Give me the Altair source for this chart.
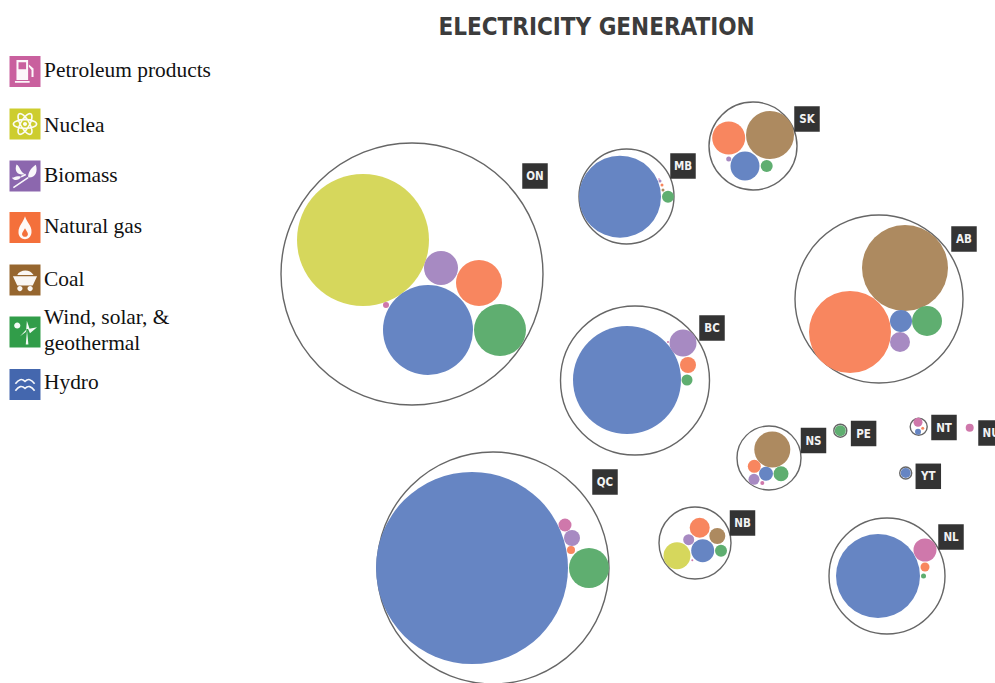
import altair as alt
import pandas as pd

# Canadian electricity generation by province: one packed cluster per province.
SOURCE_COLORS = {
    "Petroleum products": "#cf78ab",
    "Nuclear": "#d6d75c",
    "Biomass": "#a78ac2",
    "Natural gas": "#f8865f",
    "Coal": "#ad8a60",
    "Wind": "#5fae70",
    "Hydro": "#6685c3",
}

PROVINCES = ["ON", "MB", "SK", "AB", "BC", "QC", "NB", "NS", "PE", "NT", "YT", "NL"]
OUTER_X = [412, 626.5, 753, 879, 635, 493, 695, 769, 840.3, 918.7, 905.7, 887]
OUTER_Y = [274, 196.5, 146, 299, 380.5, 568, 543, 458, 430.7, 426.7, 473, 576]
OUTER_R = [131, 47.5, 44, 84, 74.5, 116, 36, 32, 6.5, 8.5, 6, 58]

TAGS = ["ON", "MB", "SK", "AB", "BC", "QC", "NB", "NS", "PE", "NT", "NU", "YT", "NL"]
TAG_X = [535, 683, 807, 964, 712, 605, 742.5, 813.5, 863.6, 944, 991, 928.3, 951]
TAG_Y = [176, 166, 119, 239, 328, 482, 523, 440.5, 433.5, 427.5, 433, 476.3, 537]

BUBBLES_SOURCE = [
    "Nuclear", "Biomass", "Natural gas", "Hydro", "Wind", "Petroleum products",
    "Hydro", "Wind", "Biomass", "Natural gas", "Coal", "Petroleum products",
    "Coal", "Natural gas", "Hydro", "Wind", "Biomass",
    "Coal", "Natural gas", "Hydro", "Wind", "Biomass",
    "Hydro", "Biomass", "Natural gas", "Wind", "Petroleum products",
    "Hydro", "Wind", "Petroleum products", "Biomass", "Natural gas",
    "Nuclear", "Natural gas", "Hydro", "Coal", "Wind", "Biomass", "Petroleum products",
    "Coal", "Natural gas", "Hydro", "Wind", "Biomass", "Petroleum products",
    "Wind",
    "Petroleum products", "Hydro", "Natural gas",
    "Petroleum products",
    "Hydro",
    "Hydro", "Petroleum products", "Natural gas", "Wind",
]
BUBBLES_X = [
    363, 441, 479, 428, 500, 386,
    620, 668, 660, 662, 663, 659,
    770, 728.7, 745, 766.7, 728.7,
    905, 850, 901, 927, 900,
    627, 683, 688, 687, 668,
    472, 589, 565, 572, 571,
    677, 699.7, 702.7, 717.3, 721, 688.7, 692.3,
    772.3, 754.3, 766, 781, 754, 762.3,
    840.3,
    918, 918, 922.7,
    969.7,
    905.7,
    878, 925, 925, 923.5,
]
BUBBLES_Y = [
    240, 268, 283, 330, 330, 305,
    196.7, 196.7, 181, 185, 190, 179,
    135, 138, 166, 166, 159,
    268, 332, 321, 321, 342,
    380, 343, 365, 380, 342,
    568, 568, 525, 538, 550,
    555.7, 527.7, 550.7, 536, 550.7, 539.7, 560.3,
    449.5, 466.3, 473.7, 473.7, 479.3, 483,
    430.7,
    422.3, 431.7, 428.3,
    427.7,
    473,
    576, 550, 567, 576,
]
BUBBLES_R = [
    66, 17, 23, 45, 26, 3,
    41, 6, 1.5, 1.5, 1.5, 0.8,
    24, 16.5, 14.5, 6, 2.5,
    43, 41, 11, 15, 10,
    54, 13.5, 8, 5.5, 1,
    96, 20, 6.5, 8, 4,
    13.5, 10, 11.5, 8, 6, 5.5, 1,
    18, 6.5, 7, 7.5, 5.5, 2,
    5.5,
    4.5, 3, 1.5,
    4,
    5,
    42, 11.5, 4.5, 2.5,
]

LEGEND_TILE_COLORS = ["#c9609e", "#cdcd2e", "#8c67ae", "#f4703b", "#96662f", "#319d49", "#4467ae"]
LEGEND_TILE_Y = [71.5, 124, 176, 227.5, 280, 332, 384.5]
LEGEND_LINES = ["Petroleum products", "Nuclea", "Biomass", "Natural gas", "Coal",
                "Wind, solar, &", "geothermal", "Hydro"]
LEGEND_LINE_Y = [71, 126, 176, 227, 280, 318, 344, 383]

# Legend pictograms, in symbol units where [-1, 1] spans the tile.
ICON_FILLED = {
    "pump": "M -0.55 -0.75 H 0.2 V 0.55 H -0.55 Z M -0.42 -0.6 V -0.15 H 0.07 V -0.6 Z "
            "M -0.65 0.62 H 0.3 V 0.72 H -0.65 Z "
            "M 0.25 -0.45 L 0.55 -0.2 V 0.35 H 0.42 V -0.1 L 0.25 -0.3 Z",
    "atom": "M -0.13 0 A 0.13 0.13 0 1 1 0.13 0 A 0.13 0.13 0 1 1 -0.13 0 Z",
    "leaf": "M 0.05 -0.1 C -0.35 -0.25 -0.3 -0.65 -0.55 -0.75 C -0.7 -0.3 -0.5 -0.05 0.05 -0.1 Z "
            "M 0.2 0.1 C 0.2 -0.3 0.45 -0.55 0.7 -0.72 C 0.85 -0.25 0.65 0.15 0.2 0.1 Z "
            "M -0.25 0.05 C -0.65 -0.05 -0.7 0.15 -0.85 0.1 C -0.7 0.35 -0.4 0.3 -0.25 0.05 Z",
    "flame": "M 0 -0.72 C 0.1 -0.35 0.45 -0.1 0.42 0.3 C 0.4 0.6 0.2 0.75 0 0.75 "
             "C -0.2 0.75 -0.42 0.6 -0.42 0.3 C -0.42 -0.1 -0.1 -0.35 0 -0.72 Z "
             "M 0 0.05 C -0.1 0.25 -0.22 0.35 -0.18 0.48 C -0.12 0.64 0.12 0.64 0.18 0.48 "
             "C 0.22 0.35 0.1 0.25 0 0.05 Z",
    "cart": "M -0.78 -0.25 H 0.78 L 0.5 0.35 H -0.5 Z "
            "M -0.5 -0.32 C -0.35 -0.65 0.3 -0.75 0.55 -0.32 Z "
            "M -0.5 0.55 A 0.17 0.17 0 1 1 -0.16 0.55 A 0.17 0.17 0 1 1 -0.5 0.55 Z "
            "M 0.16 0.55 A 0.17 0.17 0 1 1 0.5 0.55 A 0.17 0.17 0 1 1 0.16 0.55 Z",
    "wind": "M 0.13 -0.12 L 0.22 0.8 H 0.05 Z "
            "M 0.08 -0.2 L 0.12 -0.72 L 0.3 -0.2 Z "
            "M 0.2 -0.2 L 0.78 -0.3 L 0.32 0.08 Z "
            "M 0.12 -0.2 L -0.32 0.28 L 0.05 0 Z "
            "M -0.7 -0.42 A 0.2 0.2 0 1 1 -0.3 -0.42 A 0.2 0.2 0 1 1 -0.7 -0.42 Z",
}
ICON_STROKED = {
    "atom": "M -0.38 -0.65 A 0.75 0.28 60 1 1 0.38 0.65 A 0.75 0.28 60 1 1 -0.38 -0.65 Z "
            "M 0.38 -0.65 A 0.75 0.28 120 1 1 -0.38 0.65 A 0.75 0.28 120 1 1 0.38 -0.65 Z "
            "M -0.75 0 A 0.75 0.28 0 1 1 0.75 0 A 0.75 0.28 0 1 1 -0.75 0 Z",
    "leaf": "M -0.75 0.75 L 0.2 0.1 M -0.25 0.05 L 0.05 -0.1",
    "hydro": "M -0.62 -0.05 Q -0.3 -0.5 0 -0.2 Q 0.3 -0.5 0.62 -0.05 "
             "M -0.62 0.4 Q -0.3 -0.05 0 0.25 Q 0.3 -0.05 0.62 0.4",
}
ICON_ROWS_FILLED = [("pump", 71.5), ("atom", 124), ("leaf", 176), ("flame", 227.5),
                    ("cart", 280), ("wind", 332)]
ICON_ROWS_STROKED = [("atom", 124), ("leaf", 176), ("hydro", 384.5)]

# A circle mark's size is the square of its diameter.
outer = pd.DataFrame({"province": PROVINCES, "x": OUTER_X, "y": OUTER_Y, "r": OUTER_R})
outer["area"] = (2 * outer["r"]) ** 2

bubbles = pd.DataFrame({"source": BUBBLES_SOURCE, "x": BUBBLES_X, "y": BUBBLES_Y, "r": BUBBLES_R})
bubbles["area"] = (2 * bubbles["r"]) ** 2

tags = pd.DataFrame({"tag": TAGS, "x": TAG_X, "y": TAG_Y})
tiles = pd.DataFrame({"x": [25] * 7, "y": LEGEND_TILE_Y, "color": LEGEND_TILE_COLORS})
lines = pd.DataFrame({"x": [44] * 8, "y": LEGEND_LINE_Y, "line": LEGEND_LINES})
filled_icons = pd.DataFrame({
    "x": [25] * len(ICON_ROWS_FILLED),
    "y": [row[1] for row in ICON_ROWS_FILLED],
    "path": [ICON_FILLED[row[0]] for row in ICON_ROWS_FILLED],
})
stroked_icons = pd.DataFrame({
    "x": [25] * len(ICON_ROWS_STROKED),
    "y": [row[1] for row in ICON_ROWS_STROKED],
    "path": [ICON_STROKED[row[0]] for row in ICON_ROWS_STROKED],
})
title_row = pd.DataFrame({"x": [596.5], "y": [28], "text": ["ELECTRICITY GENERATION"]})

X = alt.X("x:Q", axis=None, scale=alt.Scale(domain=[0, 995], nice=False, zero=False))
Y = alt.Y("y:Q", axis=None, scale=alt.Scale(domain=[683, 0], nice=False, zero=False))

LABEL_FONT = "DejaVu Sans Condensed"

outer_layer = alt.Chart(outer).mark_circle(
    fill="#ffffff", fillOpacity=1, stroke="#666666", strokeWidth=1.4
).encode(x=X, y=Y, size=alt.Size("area:Q", scale=None, legend=None))

bubble_layer = alt.Chart(bubbles).mark_circle(opacity=1).encode(
    x=X, y=Y,
    size=alt.Size("area:Q", scale=None, legend=None),
    color=alt.Color("source:N", legend=None,
                    scale=alt.Scale(domain=list(SOURCE_COLORS), range=list(SOURCE_COLORS.values()))),
)

tag_boxes = alt.Chart(tags).mark_square(size=650, color="#333333", opacity=1).encode(x=X, y=Y)
tag_text = alt.Chart(tags).mark_text(
    font=LABEL_FONT, fontWeight="bold", fontSize=11.5, color="#f2f2f2", dy=1
).encode(x=X, y=Y, text="tag:N")

title_layer = alt.Chart(title_row).mark_text(
    font=LABEL_FONT, fontWeight="bold", fontSize=24, color="#3c3c3c"
).encode(x=X, y=Y, text="text:N")

tile_layer = alt.Chart(tiles).mark_square(size=961, opacity=1).encode(
    x=X, y=Y, color=alt.Color("color:N", scale=None, legend=None)
)
icon_fill_layer = alt.Chart(filled_icons).mark_point(
    filled=True, fill="#ffffff", opacity=0.95, size=961
).encode(x=X, y=Y, shape=alt.Shape("path:N", scale=None, legend=None))
icon_stroke_layer = alt.Chart(stroked_icons).mark_point(
    filled=False, stroke="#ffffff", strokeWidth=1.6, opacity=0.95, size=961
).encode(x=X, y=Y, shape=alt.Shape("path:N", scale=None, legend=None))
legend_text = alt.Chart(lines).mark_text(
    font="Liberation Serif", fontSize=21.4, color="#111111", align="left"
).encode(x=X, y=Y, text="line:N")

chart = alt.layer(
    outer_layer, bubble_layer, tag_boxes, tag_text, title_layer,
    tile_layer, icon_fill_layer, icon_stroke_layer, legend_text,
).properties(
    width=995, height=683, padding=0, autosize=alt.AutoSizeParams(type="none")
).configure_view(stroke=None)

chart.save("out.html", embed_options={"renderer": "svg", "actions": False})
